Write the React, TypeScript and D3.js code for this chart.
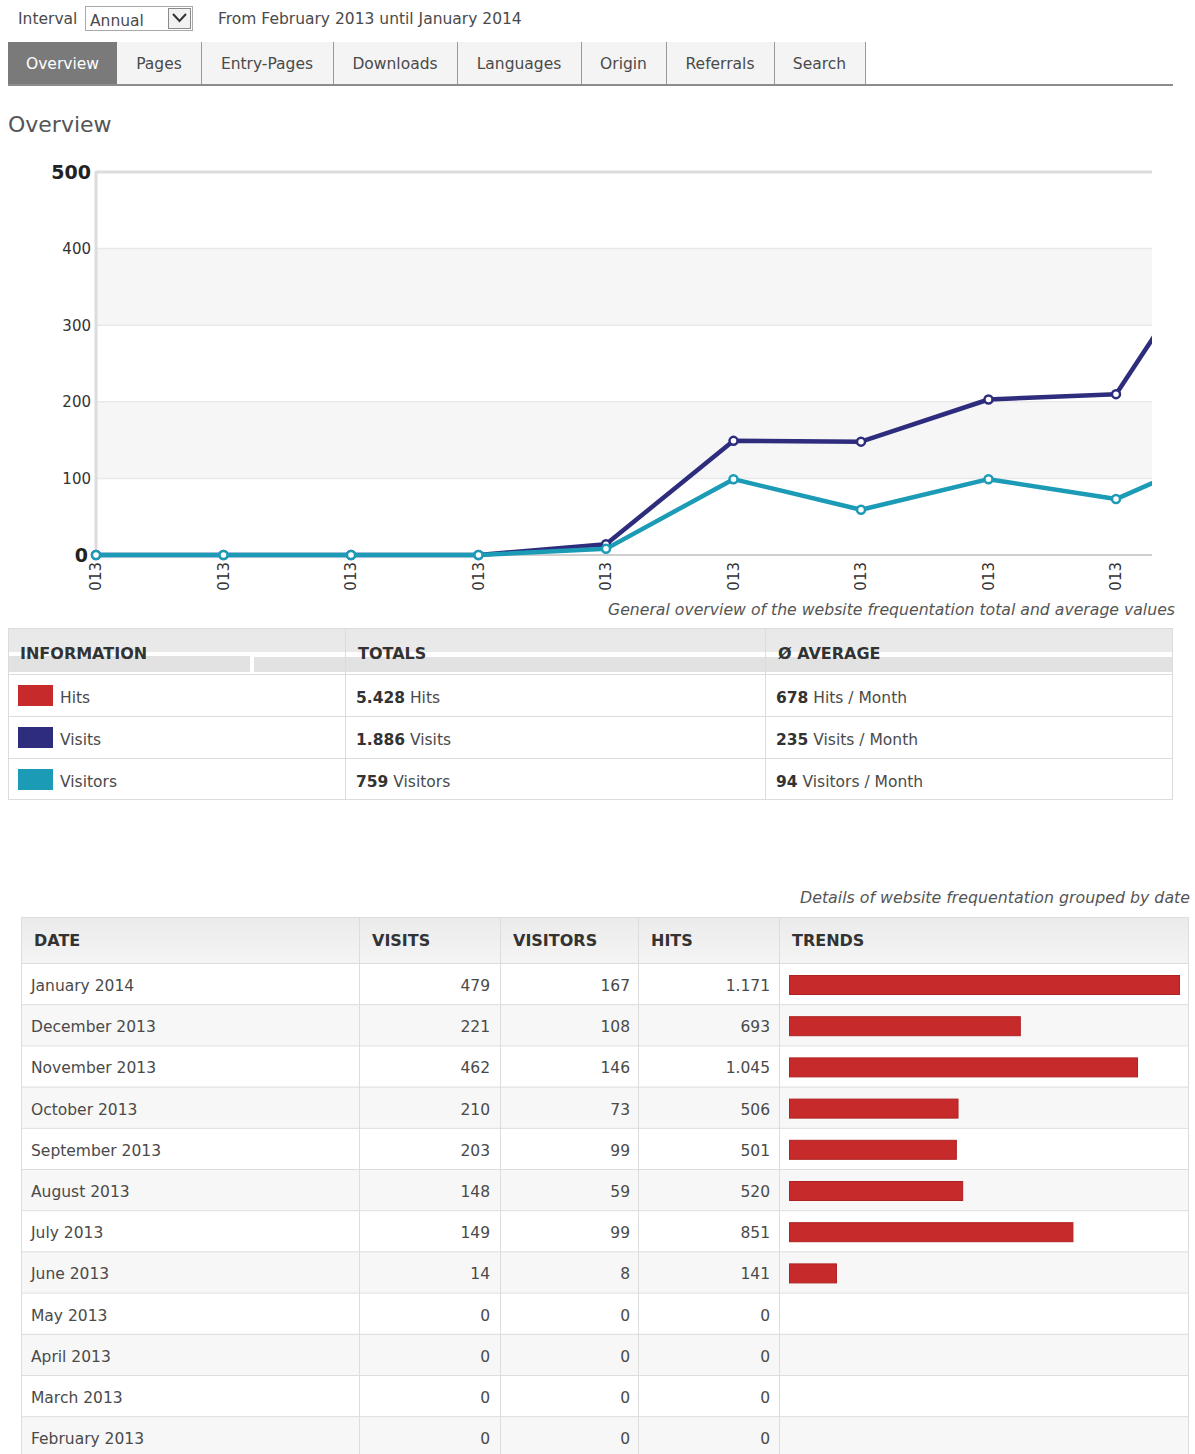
import React from 'react';
import * as d3 from 'd3';

// Monthly statistics, chronological (Feb 2013 .. Jan 2014)
const months = [
  'February 2013', 'March 2013', 'April 2013', 'May 2013', 'June 2013', 'July 2013',
  'August 2013', 'September 2013', 'October 2013', 'November 2013', 'December 2013', 'January 2014',
];
const tickLabels = [
  '02.2013', '03.2013', '04.2013', '05.2013', '06.2013', '07.2013',
  '08.2013', '09.2013', '10.2013', '11.2013', '12.2013', '01.2014',
];
const visits = [0, 0, 0, 0, 14, 149, 148, 203, 210, 462, 221, 479];
const visitors = [0, 0, 0, 0, 8, 99, 59, 99, 73, 146, 108, 167];
const hits = [0, 0, 0, 0, 141, 851, 520, 501, 506, 1045, 693, 1171];

const tabs = ['Overview', 'Pages', 'Entry-Pages', 'Downloads', 'Languages', 'Origin', 'Referrals', 'Search'];
const tabEdges = [8, 117, 201, 333, 457, 581, 666, 774, 865];

const COLOR_HITS = '#c62a2a';
const COLOR_VISITS = '#2e2c7c';
const COLOR_VISITORS = '#1b9bb6';

const FONT = '"DejaVu Sans", Verdana, sans-serif';
const TEXT = '#4a4a4a';

const fmt = d3.formatLocale({ decimal: ',', thousands: '.', grouping: [3], currency: ['', ''] }).format(',d');

if (typeof document !== 'undefined') document.body.style.margin = '0';

export default function App() {
  const W = 1195;
  const H = 1454;

  // ---- line chart scales
  const left = 96;
  const right = 1152;
  const step = 127.5;
  const x = d3.scalePoint<string>().domain(months).range([left, left + step * (months.length - 1)]);
  const y = d3.scaleLinear().domain([0, 500]).range([555, 172]);
  const yTicks = y.ticks(5);

  const series = [
    { name: 'Visits', values: visits, color: COLOR_VISITS },
    { name: 'Visitors', values: visitors, color: COLOR_VISITORS },
  ];
  const line = d3
    .line<number>()
    .x((_, i) => x(months[i]) as number)
    .y((d) => y(d));

  // ---- summary numbers
  const active = (arr: number[]) => arr.filter((v) => v > 0).length;
  const info = [
    { name: 'Hits', color: COLOR_HITS, vals: hits },
    { name: 'Visits', color: COLOR_VISITS, vals: visits },
    { name: 'Visitors', color: COLOR_VISITORS, vals: visitors },
  ].map((d) => ({
    ...d,
    total: d3.sum(d.vals),
    avg: Math.floor(d3.sum(d.vals) / active(d.vals)),
  }));

  // ---- detail table
  const rowsDesc = months.map((m, i) => ({ m, v: visits[i], vs: visitors[i], h: hits[i] })).reverse();
  const rowY = d3
    .scaleBand<string>()
    .domain(rowsDesc.map((r) => r.m))
    .range([963, 963 + 41.2 * rowsDesc.length]);
  const barW = d3.scaleLinear().domain([0, d3.max(hits) as number]).range([0, 390]);
  const cols = [21, 359, 500, 638, 779, 1188];

  const infoRows = d3.scaleBand<string>().domain(info.map((d) => d.name)).range([674, 800]);

  const visibleMonths = months.filter((m) => (x(m) as number) <= right);

  return (
    <svg width={W} height={H} style={{ display: 'block', fontFamily: FONT }}>
      <defs>
        <clipPath id="plotClip">
          <rect x={left - 8} y={160} width={right - left + 8} height={410} />
        </clipPath>
        <clipPath id="tickClip">
          <rect x={left - 20} y={558} width={right - left + 30} height={34} />
        </clipPath>
        <linearGradient id="hdr" x1="0" y1="0" x2="0" y2="1">
          <stop offset="0" stopColor="#ebebeb" />
          <stop offset="1" stopColor="#f4f4f4" />
        </linearGradient>
      </defs>
      <rect width={W} height={H} fill="#fff" />

      {/* interval selector */}
      <text x={18} y={24} fontSize={15.5} fill={TEXT}>Interval</text>
      <rect x={85.5} y={6.5} width={107} height={24} fill="#fff" stroke="#a9a9a9" />
      <text x={90} y={26} fontSize={15.5} fill={TEXT}>Annual</text>
      <rect x={168.5} y={8.5} width={22} height={20} fill="#f2f2f2" stroke="#8a8a8a" />
      <path d="M173,14 L179.5,21 L186,14" fill="none" stroke="#333" strokeWidth={2} />
      <text x={218} y={24} fontSize={15.5} fill={TEXT}>From February 2013 until January 2014</text>

      {/* tabs */}
      {tabs.map((t, i) => {
        const x0 = tabEdges[i];
        const x1 = tabEdges[i + 1];
        const on = i === 0;
        return (
          <g key={t}>
            <rect x={x0} y={42} width={x1 - x0} height={42} fill={on ? '#7a7a7a' : '#f4f4f4'} />
            <text x={(x0 + x1) / 2} y={69} textAnchor="middle" fontSize={15.5} fill={on ? '#fff' : TEXT}>
              {t}
            </text>
          </g>
        );
      })}
      {tabEdges.slice(2).map((e) => (
        <line key={e} x1={e + 0.5} x2={e + 0.5} y1={42} y2={84} stroke="#9a9a9a" />
      ))}
      <line x1={8} x2={1173} y1={85} y2={85} stroke="#8c8c8c" strokeWidth={2} />

      <text x={8} y={132} fontSize={22} fill="#555">Overview</text>

      {/* chart background bands */}
      {yTicks.slice(0, -1).map((t, i) =>
        i % 2 === 1 ? (
          <rect key={t} x={left} y={y(yTicks[i + 1])} width={right - left} height={y(t) - y(yTicks[i + 1])} fill="#f6f6f6" />
        ) : null,
      )}
      {yTicks.slice(1, -1).map((t) => (
        <line key={t} x1={left} x2={right} y1={y(t)} y2={y(t)} stroke="#e9e9e9" strokeWidth={1.5} />
      ))}
      <line x1={left} x2={right} y1={y(500)} y2={y(500)} stroke="#dcdcdc" strokeWidth={3} />
      <line x1={left} x2={left} y1={y(500) - 1} y2={y(0)} stroke="#dcdcdc" strokeWidth={3} />
      <line x1={left} x2={right} y1={y(0)} y2={y(0)} stroke="#cfcfcf" strokeWidth={2} />

      {/* y labels */}
      {yTicks.map((t, i) => {
        const edge = i === 0 || i === yTicks.length - 1;
        return (
          <text
            key={t}
            x={91}
            y={y(t)}
            dy="0.36em"
            textAnchor="end"
            fontSize={edge ? 19 : 15}
            fontWeight={edge ? 'bold' : 'normal'}
            fill={edge ? '#222' : '#333'}
            dx={t === 0 ? -3 : 0}
          >
            {t}
          </text>
        );
      })}

      {/* x labels (clipped) */}
      <g clipPath="url(#tickClip)">
        {visibleMonths.map((m) => (
          <text
            key={m}
            transform={`translate(${x(m)},${562}) rotate(-90)`}
            textAnchor="end"
            dy="0.36em"
            fontSize={15}
            fill="#333"
          >
            {tickLabels[months.indexOf(m)]}
          </text>
        ))}
      </g>

      {/* series */}
      <g clipPath="url(#plotClip)">
        {series.map((s) => (
          <g key={s.name}>
            <path d={line(s.values) as string} fill="none" stroke={s.color} strokeWidth={4.5} strokeLinejoin="round" />
            {s.values.map((v, i) =>
              (x(months[i]) as number) <= right ? (
                <circle key={i} cx={x(months[i])} cy={y(v)} r={4} fill="#fff" stroke={s.color} strokeWidth={2.5} />
              ) : null,
            )}
          </g>
        ))}
      </g>

      <text x={1175} y={615} textAnchor="end" fontSize={15.7} fontStyle="italic" fill="#555">
        General overview of the website frequentation total and average values
      </text>

      {/* info table */}
      <rect x={8.5} y={628.5} width={1164} height={171} fill="#fff" stroke="#dcdcdc" />
      <rect x={9} y={629} width={1163} height={23} fill="#e9e9e9" />
      <rect x={9} y={656} width={241} height={16} fill="#e2e2e2" />
      <rect x={254} y={657} width={918} height={15} fill="#e2e2e2" />
      <text x={20} y={659} fontSize={16} fontWeight="bold" fill="#333">INFORMATION</text>
      <text x={358} y={659} fontSize={16} fontWeight="bold" fill="#333">TOTALS</text>
      <text x={778} y={659} fontSize={16} fontWeight="bold" fill="#333">Ø AVERAGE</text>
      {info.map((d) => {
        const ry = infoRows(d.name) as number;
        return (
          <g key={d.name}>
            <line x1={8} x2={1173} y1={ry + 0.5} y2={ry + 0.5} stroke="#dcdcdc" />
            <rect x={18} y={ry + 11} width={35} height={21} fill={d.color} />
            <text x={60} y={ry + 29} fontSize={15.5} fill={TEXT}>{d.name}</text>
            <text x={356} y={ry + 29} fontSize={15.5} fill={TEXT}>
              <tspan fontWeight="bold" fill="#333">{fmt(d.total)}</tspan> {d.name}
            </text>
            <text x={776} y={ry + 29} fontSize={15.5} fill={TEXT}>
              <tspan fontWeight="bold" fill="#333">{fmt(d.avg)}</tspan> {d.name} / Month
            </text>
          </g>
        );
      })}
      <line x1={345.5} x2={345.5} y1={628} y2={800} stroke="#dcdcdc" />
      <line x1={765.5} x2={765.5} y1={628} y2={800} stroke="#dcdcdc" />

      {/* detail table */}
      <text x={1190} y={903} textAnchor="end" fontSize={15.8} fontStyle="italic" fill="#555">
        Details of website frequentation grouped by date
      </text>
      <rect x={21} y={917} width={1167} height={46} fill="url(#hdr)" />
      {['DATE', 'VISITS', 'VISITORS', 'HITS', 'TRENDS'].map((h, i) => (
        <text key={h} x={cols[i] + 13} y={946} fontSize={16} fontWeight="bold" fill="#333">{h}</text>
      ))}
      {rowsDesc.map((r, i) => {
        const ry = rowY(r.m) as number;
        const h = rowY.bandwidth();
        return (
          <g key={r.m}>
            <rect x={21} y={ry} width={1167} height={h} fill={i % 2 ? '#f7f7f7' : '#fff'} />
            <line x1={21} x2={1188} y1={ry + 0.5} y2={ry + 0.5} stroke="#dddddd" />
            <text x={31} y={ry + 28} fontSize={15.5} fill={TEXT}>{r.m}</text>
            <text x={490} y={ry + 28} fontSize={15.5} fill={TEXT} textAnchor="end">{fmt(r.v)}</text>
            <text x={630} y={ry + 28} fontSize={15.5} fill={TEXT} textAnchor="end">{fmt(r.vs)}</text>
            <text x={770} y={ry + 28} fontSize={15.5} fill={TEXT} textAnchor="end">{fmt(r.h)}</text>
            {r.h > 0 && (
              <rect x={789.5} y={ry + 12.5} width={barW(r.h)} height={19} fill={COLOR_HITS} stroke="#b02222" strokeWidth={1} />
            )}
          </g>
        );
      })}
      {cols.map((c) => (
        <line key={c} x1={c + 0.5} x2={c + 0.5} y1={917} y2={H} stroke="#dddddd" />
      ))}
      <line x1={21} x2={1188} y1={917.5} y2={917.5} stroke="#dddddd" />
    </svg>
  );
}
